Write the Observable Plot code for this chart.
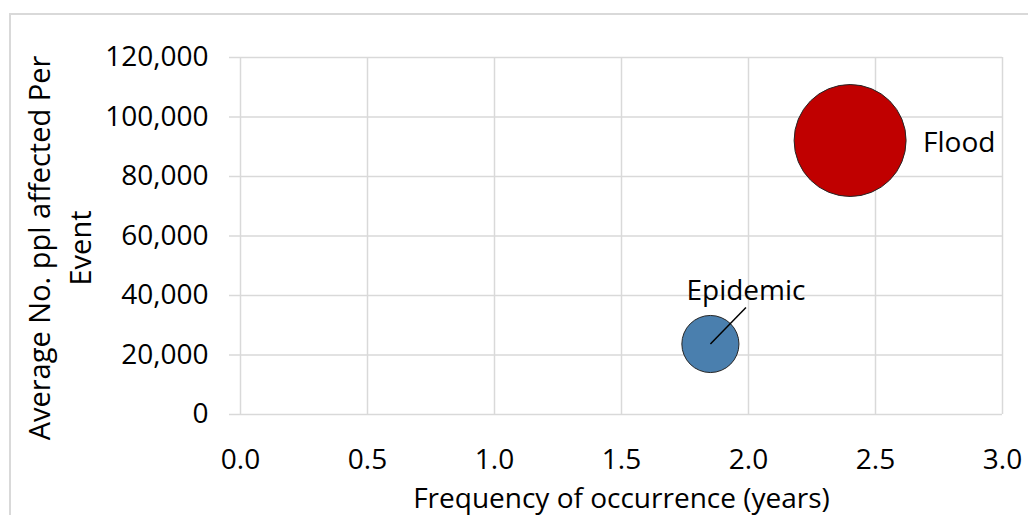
<!DOCTYPE html>
<html><head><meta charset="utf-8">
<script src="https://cdn.jsdelivr.net/npm/d3@7"></script>
<script src="https://cdn.jsdelivr.net/npm/@observablehq/plot@0.6"></script>
<style>
html,body{margin:0;padding:0;background:#fff;overflow:hidden;}
#wrap{position:relative;width:1028px;height:515px;overflow:hidden;}
#border{position:absolute;left:9px;top:13px;width:1040px;height:530px;border:2px solid #d9d9d9;box-sizing:border-box;}
#chart{position:absolute;left:0;top:0;}
</style></head><body>
<div id="wrap"><div id="border"></div><div id="chart"></div></div>
<script>
// Data
const hazards = ["Epidemic", "Flood"];
const frequency = [1.85, 2.40];          // years
const avgAffected = [23700, 92100];      // avg no. people affected per event
const bubbleSize = [26, 100];            // relative bubble size
const colors = ["#4a7fae", "#c00000"];
const xTicks = [0, 0.5, 1, 1.5, 2, 2.5, 3];
const yTicks = [0, 20000, 40000, 60000, 80000, 100000, 120000];
const xTitle = "Frequency of occurrence (years)";
const yTitle = "Average No. ppl affected Per\nEvent";
// Epidemic callout end point (data units)
const calloutHazard = ["Epidemic"];
const calloutX = [1.99];
const calloutY = [36000];

const data = hazards.map((h, i) => ({hazard: h, x: frequency[i], y: avgAffected[i], size: bubbleSize[i]}));
const callouts = calloutHazard.map((h, i) => {
  const d = data.find(e => e.hazard === h);
  return {hazard: h, x1: d.x, y1: d.y, x2: calloutX[i], y2: calloutY[i]};
});
const directLabels = data.filter(d => !calloutHazard.includes(d.hazard));

const chart = Plot.plot({
  width: 1028, height: 515,
  marginLeft: 240, marginRight: 26, marginTop: 57, marginBottom: 101,
  style: {fontFamily: "'Open Sans', sans-serif", fontSize: "28px", color: "#000", background: "transparent"},
  x: {domain: [0, 3], label: null},
  y: {domain: [0, 120000], label: null},
  r: {domain: [0, 100], range: [0, 56]},
  color: {domain: hazards, range: colors},
  marks: [
    Plot.gridX(xTicks, {stroke: "#d9d9d9", strokeOpacity: 1, strokeWidth: 1.5}),
    Plot.gridY(yTicks, {stroke: "#d9d9d9", strokeOpacity: 1, strokeWidth: 1.5}),
    Plot.axisY(yTicks, {tickSize: 11, tickPadding: 21, stroke: "#d9d9d9", strokeWidth: 1.5, fill: "#000", tickFormat: d3.format(","), label: null, fontSize: 28}),
    Plot.axisX(xTicks, {tickSize: 0, tickPadding: 35, fill: "#000", tickFormat: d => d.toFixed(1), label: null, fontSize: 28}),
    Plot.dot(data, {x: "x", y: "y", r: "size", fill: "hazard", stroke: "#262626", strokeWidth: 1}),
    Plot.link(callouts, {x1: "x1", y1: "y1", x2: "x2", y2: "y2", stroke: "#000", strokeWidth: 1.5}),
    Plot.text(callouts, {x: "x2", y: "y2", text: "hazard", textAnchor: "middle", dy: -16, fill: "#000", fontSize: 28}),
    Plot.text(directLabels, {x: "x", y: "y", text: "hazard", textAnchor: "start", dx: 73, dy: 3, fill: "#000", fontSize: 28}),
    Plot.text([xTitle], {frameAnchor: "bottom", text: d => d, dy: 93, fill: "#000", fontSize: 28}),
    Plot.text([yTitle], {frameAnchor: "left", text: d => d, rotate: -90, textAnchor: "middle", lineAnchor: "middle", lineHeight: 1.4, dx: -183, dy: 12, fill: "#000", fontSize: 29})
  ]
});
document.getElementById("chart").appendChild(chart);
</script>
</body></html>
